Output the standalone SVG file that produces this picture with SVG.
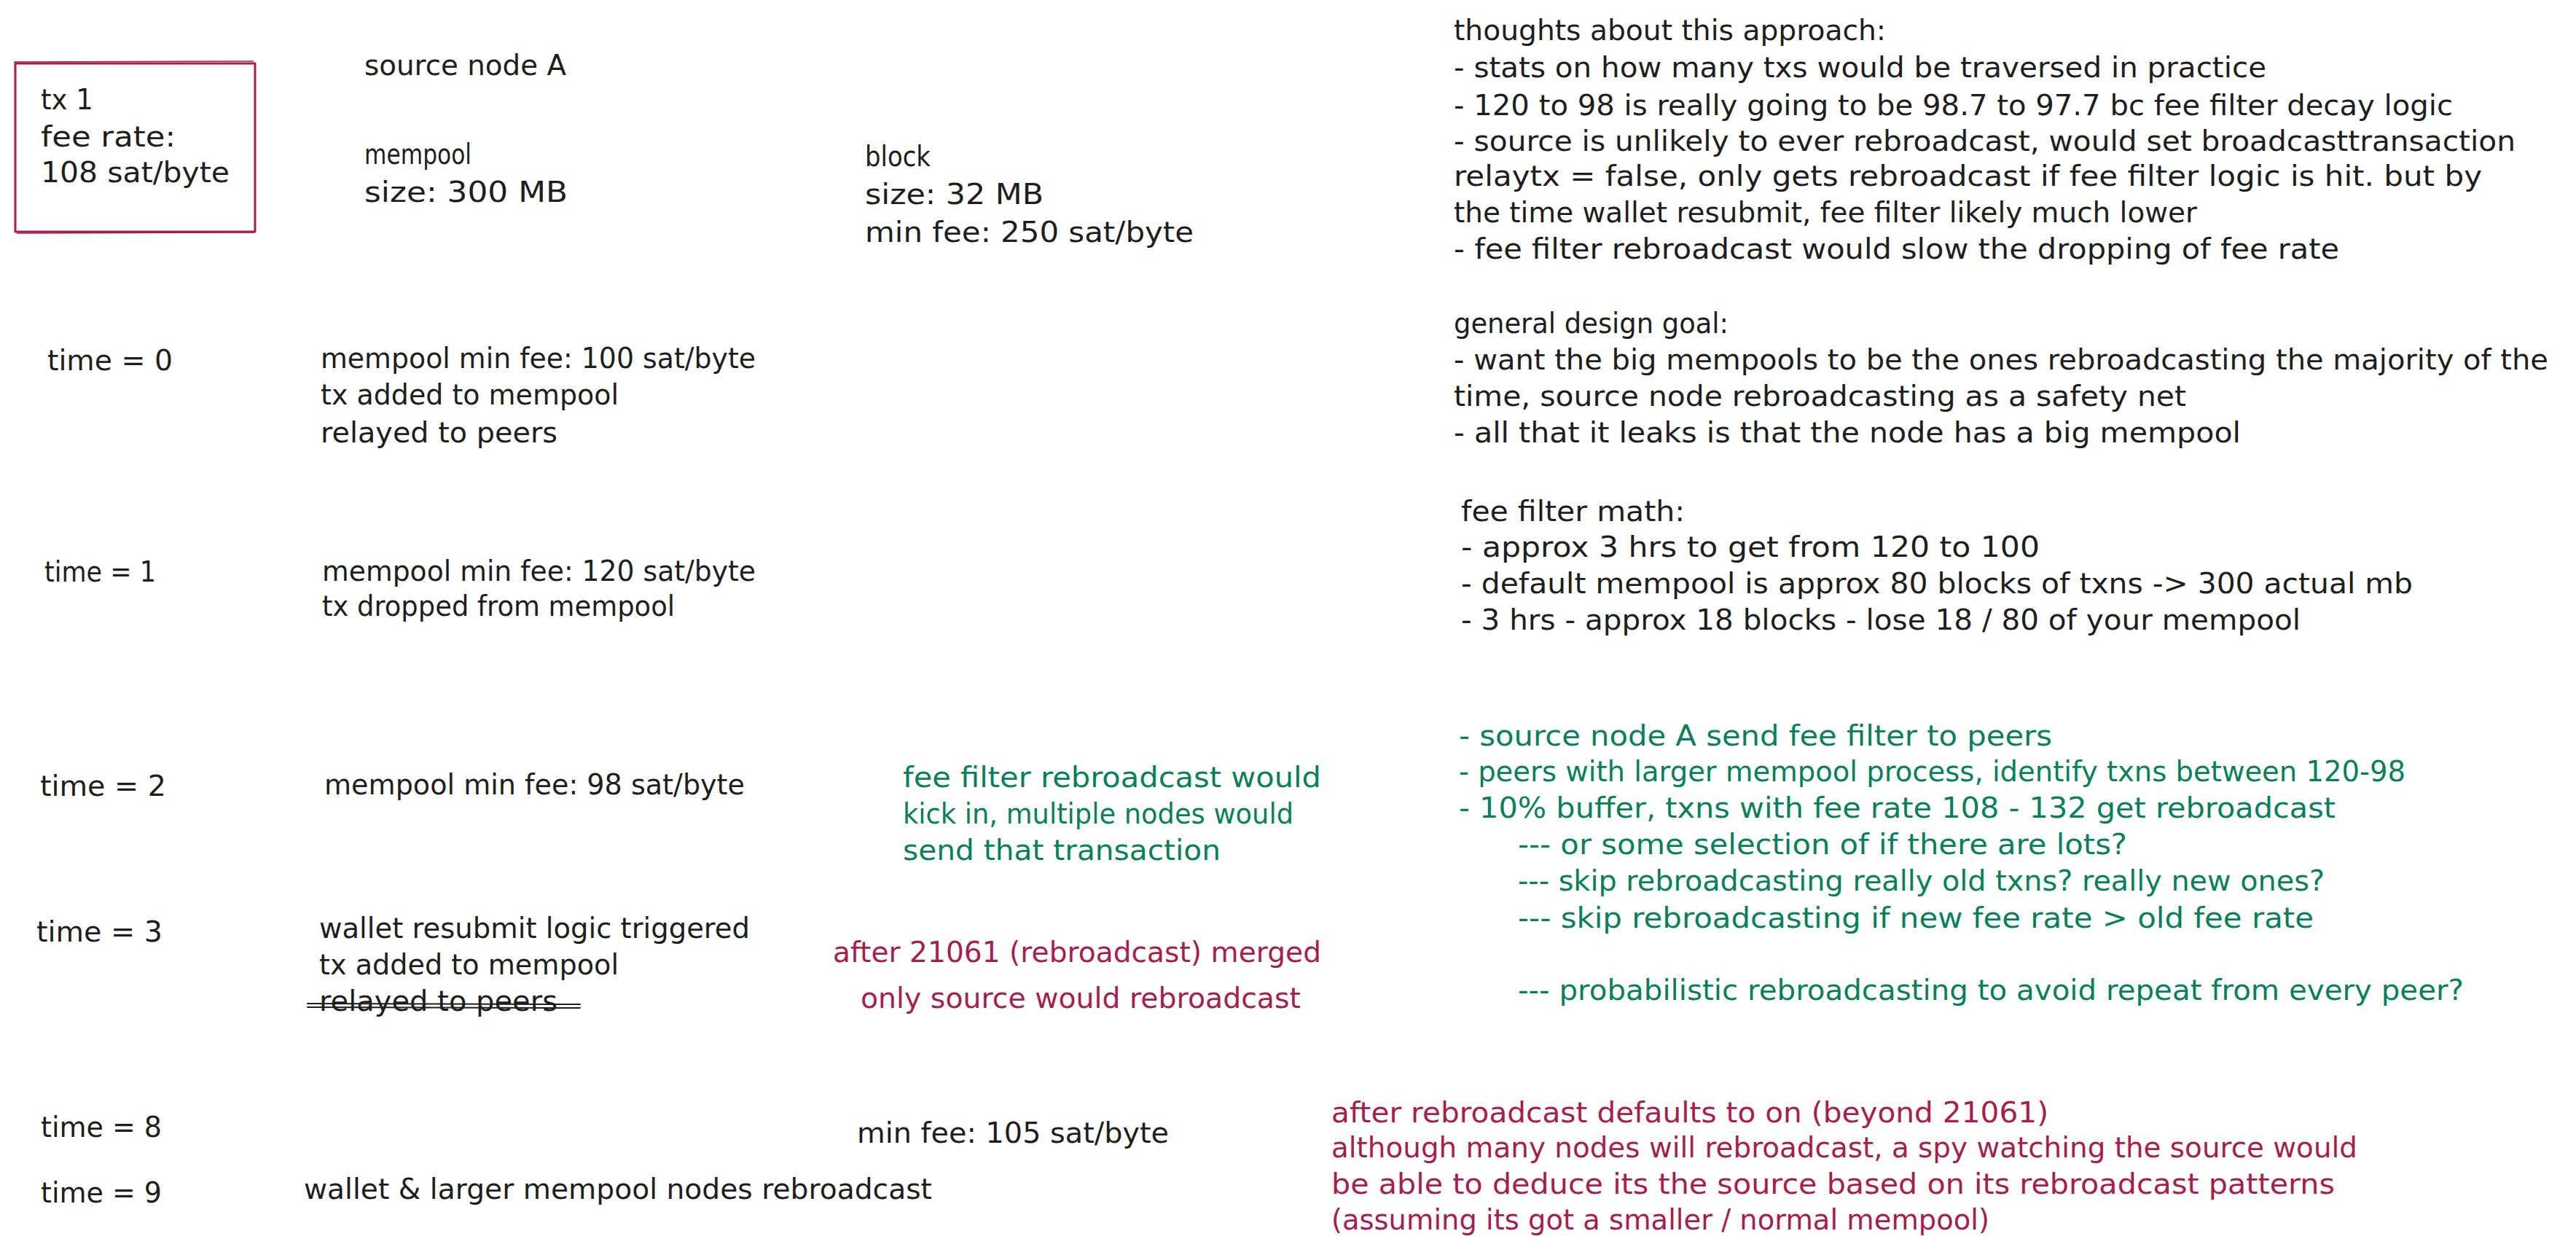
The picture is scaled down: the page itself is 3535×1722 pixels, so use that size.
<svg xmlns="http://www.w3.org/2000/svg" width="3535" height="1722" viewBox="0 0 3535 1722">
<style>
text{font-family:"DejaVu Sans","Liberation Sans",sans-serif;font-size:39px;fill:#1e1e1e}
text.g{fill:#087f5b}
text.r{fill:#a61e4d}
.box{fill:none;stroke:#a61e4d;stroke-width:3;stroke-linejoin:round}
.box2{fill:none;stroke:#a61e4d;stroke-width:1.5}
.strike{stroke:#1e1e1e;stroke-width:2;fill:none;stroke-linecap:round}
</style>
<rect width="3535" height="1722" fill="#ffffff"/>

<g id="tx1">
<rect class="box" x="21" y="87" width="329" height="231"/>
<path class="box2" d="M19 85 L348 84 M23 320 L349 319"/>
<text x="56" y="150" textLength="72" lengthAdjust="spacingAndGlyphs">tx 1</text>
<text x="56" y="201" textLength="185" lengthAdjust="spacingAndGlyphs">fee rate:</text>
<text x="56" y="250" textLength="259" lengthAdjust="spacingAndGlyphs">108 sat/byte</text>
</g>

<g id="source-node">
<text x="500" y="103" textLength="277" lengthAdjust="spacingAndGlyphs">source node A</text>
</g>

<g id="mempool">
<text x="500" y="225" textLength="147" lengthAdjust="spacingAndGlyphs">mempool</text>
<text x="500" y="277" textLength="279" lengthAdjust="spacingAndGlyphs">size: 300 MB</text>
</g>

<g id="block">
<text x="1187" y="228" textLength="90" lengthAdjust="spacingAndGlyphs">block</text>
<text x="1187" y="280" textLength="245" lengthAdjust="spacingAndGlyphs">size: 32 MB</text>
<text x="1187" y="332" textLength="451" lengthAdjust="spacingAndGlyphs">min fee: 250 sat/byte</text>
</g>

<g id="thoughts">
<text x="1995" y="55" textLength="593" lengthAdjust="spacingAndGlyphs">thoughts about this approach:</text>
<text x="1995" y="106" textLength="1115" lengthAdjust="spacingAndGlyphs">- stats on how many txs would be traversed in practice</text>
<text x="1995" y="158" textLength="1371" lengthAdjust="spacingAndGlyphs">- 120 to 98 is really going to be 98.7 to 97.7 bc fee filter decay logic</text>
<text x="1995" y="207" textLength="1457" lengthAdjust="spacingAndGlyphs">- source is unlikely to ever rebroadcast, would set broadcasttransaction</text>
<text x="1995" y="255" textLength="1411" lengthAdjust="spacingAndGlyphs">relaytx = false, only gets rebroadcast if fee filter logic is hit. but by</text>
<text x="1995" y="305" textLength="1020" lengthAdjust="spacingAndGlyphs">the time wallet resubmit, fee filter likely much lower</text>
<text x="1995" y="355" textLength="1215" lengthAdjust="spacingAndGlyphs">- fee filter rebroadcast would slow the dropping of fee rate</text>
</g>

<g id="design-goal">
<text x="1995" y="457" textLength="377" lengthAdjust="spacingAndGlyphs">general design goal:</text>
<text x="1995" y="507" textLength="1502" lengthAdjust="spacingAndGlyphs">- want the big mempools to be the ones rebroadcasting the majority of the</text>
<text x="1995" y="557" textLength="1005" lengthAdjust="spacingAndGlyphs">time, source node rebroadcasting as a safety net</text>
<text x="1995" y="607" textLength="1080" lengthAdjust="spacingAndGlyphs">- all that it leaks is that the node has a big mempool</text>
</g>

<g id="fee-filter-math">
<text x="2005" y="715" textLength="307" lengthAdjust="spacingAndGlyphs">fee filter math:</text>
<text x="2005" y="764" textLength="794" lengthAdjust="spacingAndGlyphs">- approx 3 hrs to get from 120 to 100</text>
<text x="2005" y="814" textLength="1306" lengthAdjust="spacingAndGlyphs">- default mempool is approx 80 blocks of txns -&gt; 300 actual mb</text>
<text x="2005" y="864" textLength="1152" lengthAdjust="spacingAndGlyphs">- 3 hrs - approx 18 blocks - lose 18 / 80 of your mempool</text>
</g>

<g id="proposal">
<text class="g" x="2002" y="1023" textLength="814" lengthAdjust="spacingAndGlyphs">- source node A send fee filter to peers</text>
<text class="g" x="2002" y="1072" textLength="1299" lengthAdjust="spacingAndGlyphs">- peers with larger mempool process, identify txns between 120-98</text>
<text class="g" x="2002" y="1122" textLength="1203" lengthAdjust="spacingAndGlyphs">- 10% buffer, txns with fee rate 108 - 132 get rebroadcast</text>
<text class="g" x="2083" y="1172" textLength="836" lengthAdjust="spacingAndGlyphs">--- or some selection of if there are lots?</text>
<text class="g" x="2083" y="1222" textLength="1107" lengthAdjust="spacingAndGlyphs">--- skip rebroadcasting really old txns? really new ones?</text>
<text class="g" x="2083" y="1273" textLength="1092" lengthAdjust="spacingAndGlyphs">--- skip rebroadcasting if new fee rate &gt; old fee rate</text>
<text class="g" x="2083" y="1372" textLength="1298" lengthAdjust="spacingAndGlyphs">--- probabilistic rebroadcasting to avoid repeat from every peer?</text>
</g>

<g id="time0">
<text x="65" y="508" textLength="172" lengthAdjust="spacingAndGlyphs">time = 0</text>
<text x="440" y="505" textLength="597" lengthAdjust="spacingAndGlyphs">mempool min fee: 100 sat/byte</text>
<text x="440" y="555" textLength="409" lengthAdjust="spacingAndGlyphs">tx added to mempool</text>
<text x="440" y="607" textLength="325" lengthAdjust="spacingAndGlyphs">relayed to peers</text>
</g>

<g id="time1">
<text x="61" y="798" textLength="153" lengthAdjust="spacingAndGlyphs">time = 1</text>
<text x="442" y="797" textLength="595" lengthAdjust="spacingAndGlyphs">mempool min fee: 120 sat/byte</text>
<text x="442" y="845" textLength="484" lengthAdjust="spacingAndGlyphs">tx dropped from mempool</text>
</g>

<g id="time2">
<text x="55" y="1092" textLength="173" lengthAdjust="spacingAndGlyphs">time = 2</text>
<text x="445" y="1090" textLength="577" lengthAdjust="spacingAndGlyphs">mempool min fee: 98 sat/byte</text>
</g>

<g id="fee-filter-note">
<text class="g" x="1239" y="1080" textLength="574" lengthAdjust="spacingAndGlyphs">fee filter rebroadcast would</text>
<text class="g" x="1239" y="1130" textLength="536" lengthAdjust="spacingAndGlyphs">kick in, multiple nodes would</text>
<text class="g" x="1239" y="1180" textLength="436" lengthAdjust="spacingAndGlyphs">send that transaction</text>
</g>

<g id="time3">
<text x="50" y="1292" textLength="173" lengthAdjust="spacingAndGlyphs">time = 3</text>
<text x="438" y="1287" textLength="591" lengthAdjust="spacingAndGlyphs">wallet resubmit logic triggered</text>
<text x="438" y="1337" textLength="411" lengthAdjust="spacingAndGlyphs">tx added to mempool</text>
<text x="438" y="1387" textLength="327" lengthAdjust="spacingAndGlyphs">relayed to peers</text>
<path class="strike" d="M422 1377 L796 1378 M422 1382 L796 1383"/>
</g>

<g id="merged-note">
<text class="r" x="1478" y="1320" text-anchor="middle" textLength="670" lengthAdjust="spacingAndGlyphs">after 21061 (rebroadcast) merged</text>
<text class="r" x="1483" y="1383" text-anchor="middle" textLength="604" lengthAdjust="spacingAndGlyphs">only source would rebroadcast</text>
</g>

<g id="time8">
<text x="56" y="1560" textLength="166" lengthAdjust="spacingAndGlyphs">time = 8</text>
<text x="1176" y="1568" textLength="428" lengthAdjust="spacingAndGlyphs">min fee: 105 sat/byte</text>
</g>

<g id="time9">
<text x="56" y="1650" textLength="166" lengthAdjust="spacingAndGlyphs">time = 9</text>
<text x="417" y="1645" textLength="862" lengthAdjust="spacingAndGlyphs">wallet &amp; larger mempool nodes rebroadcast</text>
</g>

<g id="defaults-note">
<text class="r" x="1827" y="1540" textLength="984" lengthAdjust="spacingAndGlyphs">after rebroadcast defaults to on (beyond 21061)</text>
<text class="r" x="1827" y="1588" textLength="1408" lengthAdjust="spacingAndGlyphs">although many nodes will rebroadcast, a spy watching the source would</text>
<text class="r" x="1827" y="1638" textLength="1377" lengthAdjust="spacingAndGlyphs">be able to deduce its the source based on its rebroadcast patterns</text>
<text class="r" x="1827" y="1687" textLength="903" lengthAdjust="spacingAndGlyphs">(assuming its got a smaller / normal mempool)</text>
</g>
</svg>
